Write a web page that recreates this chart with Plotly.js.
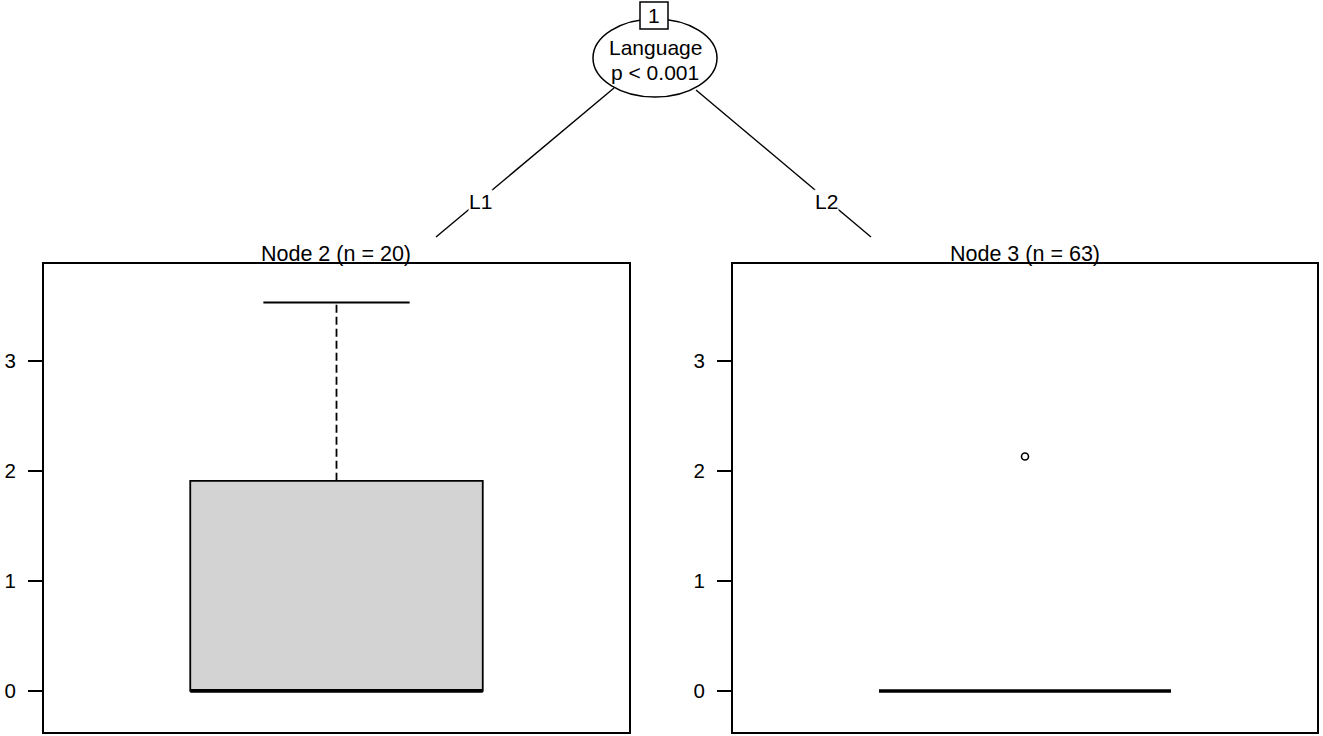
<!DOCTYPE html>
<html>
<head>
<meta charset="utf-8">
<script src="https://cdn.plot.ly/plotly-3.0.1.min.js"></script>
<style>
  html, body { margin: 0; padding: 0; background: #fff; }
  #chart { width: 1323px; height: 736px; }
</style>
</head>
<body>
<div id="chart"></div>
<script>
// ctree result: one split on Language, two terminal nodes with boxplots
const splitVar = 'Language';
const splitP = 'p < 0.001';
const rootId = '1';
const edgeLabels = ['L1', 'L2'];
const nodeIds = [2, 3];
const nodeN = [20, 63];

// boxplot stats per terminal node
const lowerWhisker = [0, 0];
const q1 = [0, 0];
const medians = [0, 0];
const q3 = [1.91, 0];
const upperWhisker = [3.53, 0];
const outliers = [[], [2.13]];

const yTicks = [0, 1, 2, 3];
const yRange = [-0.373, 3.88];

const W = 1323, H = 736;
const px = x => x / W;
const py = y => 1 - y / H;

const FONT = 'Liberation Sans, Arial, sans-serif';
const BOX_W = 1;          // box width in x units (axis spans 2)
const CAP_W = BOX_W / 2;  // whisker cap width

const panels = [
  { xa: 'x', ya: 'y', dom: [px(44), px(629)] },
  { xa: 'x2', ya: 'y2', dom: [px(733), px(1317)] }
];

const traces = [];
panels.forEach((p, i) => {
  traces.push({
    type: 'box', x: [0], xaxis: p.xa, yaxis: p.ya,
    q1: [q1[i]], median: [medians[i]], q3: [q3[i]],
    lowerfence: [q1[i]], upperfence: [q3[i]],
    width: BOX_W, boxpoints: false,
    fillcolor: '#d3d3d3', line: { color: '#000', width: 1.8 },
    hoverinfo: 'skip', showlegend: false
  });
  // thick median
  traces.push({
    type: 'scatter', mode: 'lines', xaxis: p.xa, yaxis: p.ya,
    x: [-BOX_W / 2, BOX_W / 2], y: [medians[i], medians[i]],
    line: { color: '#000', width: 3.4 }, hoverinfo: 'skip', showlegend: false
  });
  // dashed whiskers + caps
  if (upperWhisker[i] > q3[i]) {
    traces.push({
      type: 'scatter', mode: 'lines', xaxis: p.xa, yaxis: p.ya,
      x: [0, 0], y: [q3[i], upperWhisker[i]],
      line: { color: '#000', width: 1.8, dash: '8px,4px' }, hoverinfo: 'skip', showlegend: false
    });
    traces.push({
      type: 'scatter', mode: 'lines', xaxis: p.xa, yaxis: p.ya,
      x: [-CAP_W / 2, CAP_W / 2], y: [upperWhisker[i], upperWhisker[i]],
      line: { color: '#000', width: 2.2 }, hoverinfo: 'skip', showlegend: false
    });
  }
  if (lowerWhisker[i] < q1[i]) {
    traces.push({
      type: 'scatter', mode: 'lines', xaxis: p.xa, yaxis: p.ya,
      x: [0, 0], y: [lowerWhisker[i], q1[i]],
      line: { color: '#000', width: 1.8, dash: '8px,4px' }, hoverinfo: 'skip', showlegend: false
    });
  }
  if (outliers[i].length) {
    traces.push({
      type: 'scatter', mode: 'markers', xaxis: p.xa, yaxis: p.ya,
      x: outliers[i].map(() => 0), y: outliers[i],
      marker: { symbol: 'circle-open', size: 7, color: '#000', line: { width: 1.6 } },
      hoverinfo: 'skip', showlegend: false
    });
  }
});

const axisX = dom => ({
  domain: dom, range: [-1, 1], showticklabels: false, ticks: '',
  showgrid: false, zeroline: false, showline: true, mirror: true,
  linecolor: '#000', linewidth: 2, fixedrange: true
});
const axisY = anchor => ({
  domain: [py(732), py(264)], range: yRange, tickvals: yTicks,
  ticks: 'outside', ticklen: 14, tickwidth: 1.8, tickcolor: '#000',
  ticklabelstandoff: 8, showgrid: false, zeroline: false,
  showline: true, mirror: true, linecolor: '#000', linewidth: 2,
  tickfont: { family: FONT, size: 20.5, color: '#000' }, anchor: anchor, fixedrange: true
});

// tree drawing (paper coords)
const edgeLine = { color: '#000', width: 1.4 };
const shapes = [
  { type: 'line', xref: 'paper', yref: 'paper', x0: px(614), y0: py(88), x1: px(436), y1: py(237), line: edgeLine },
  { type: 'line', xref: 'paper', yref: 'paper', x0: px(696), y0: py(90), x1: px(871), y1: py(237), line: edgeLine },
  { type: 'circle', xref: 'paper', yref: 'paper', x0: px(593), x1: px(717), y0: py(97), y1: py(19),
    fillcolor: '#fff', line: { color: '#000', width: 1.5 } },
  { type: 'rect', xref: 'paper', yref: 'paper', x0: px(640), x1: px(668), y0: py(29), y1: py(2),
    fillcolor: '#fff', line: { color: '#000', width: 1.5 } }
];

const ann = (x, y, text, size, extra) => Object.assign({
  xref: 'paper', yref: 'paper', x: px(x), y: py(y), text: text, showarrow: false,
  xanchor: 'center', yanchor: 'middle',
  font: { family: FONT, size: size, color: '#000' }
}, extra || {});

const annotations = [
  ann(654, 16, rootId, 21),
  ann(655, 47, splitVar, 21),
  ann(655, 72, splitP, 21),
  ann(480, 202, edgeLabels[0], 21, { bgcolor: '#fff', borderpad: 0 }),
  ann(826, 202, edgeLabels[1], 21, { bgcolor: '#fff', borderpad: 0 }),
  ann(336, 254, 'Node ' + nodeIds[0] + ' (n = ' + nodeN[0] + ')', 21.5),
  ann(1025, 254, 'Node ' + nodeIds[1] + ' (n = ' + nodeN[1] + ')', 21.5)
];

const layout = {
  width: W, height: H,
  margin: { l: 0, r: 0, t: 0, b: 0 },
  paper_bgcolor: '#fff', plot_bgcolor: '#fff',
  showlegend: false,
  xaxis: axisX(panels[0].dom), yaxis: axisY('x'),
  xaxis2: axisX(panels[1].dom), yaxis2: axisY('x2'),
  shapes: shapes, annotations: annotations
};

Plotly.newPlot('chart', traces, layout, { displayModeBar: false, staticPlot: true });
</script>
</body>
</html>
